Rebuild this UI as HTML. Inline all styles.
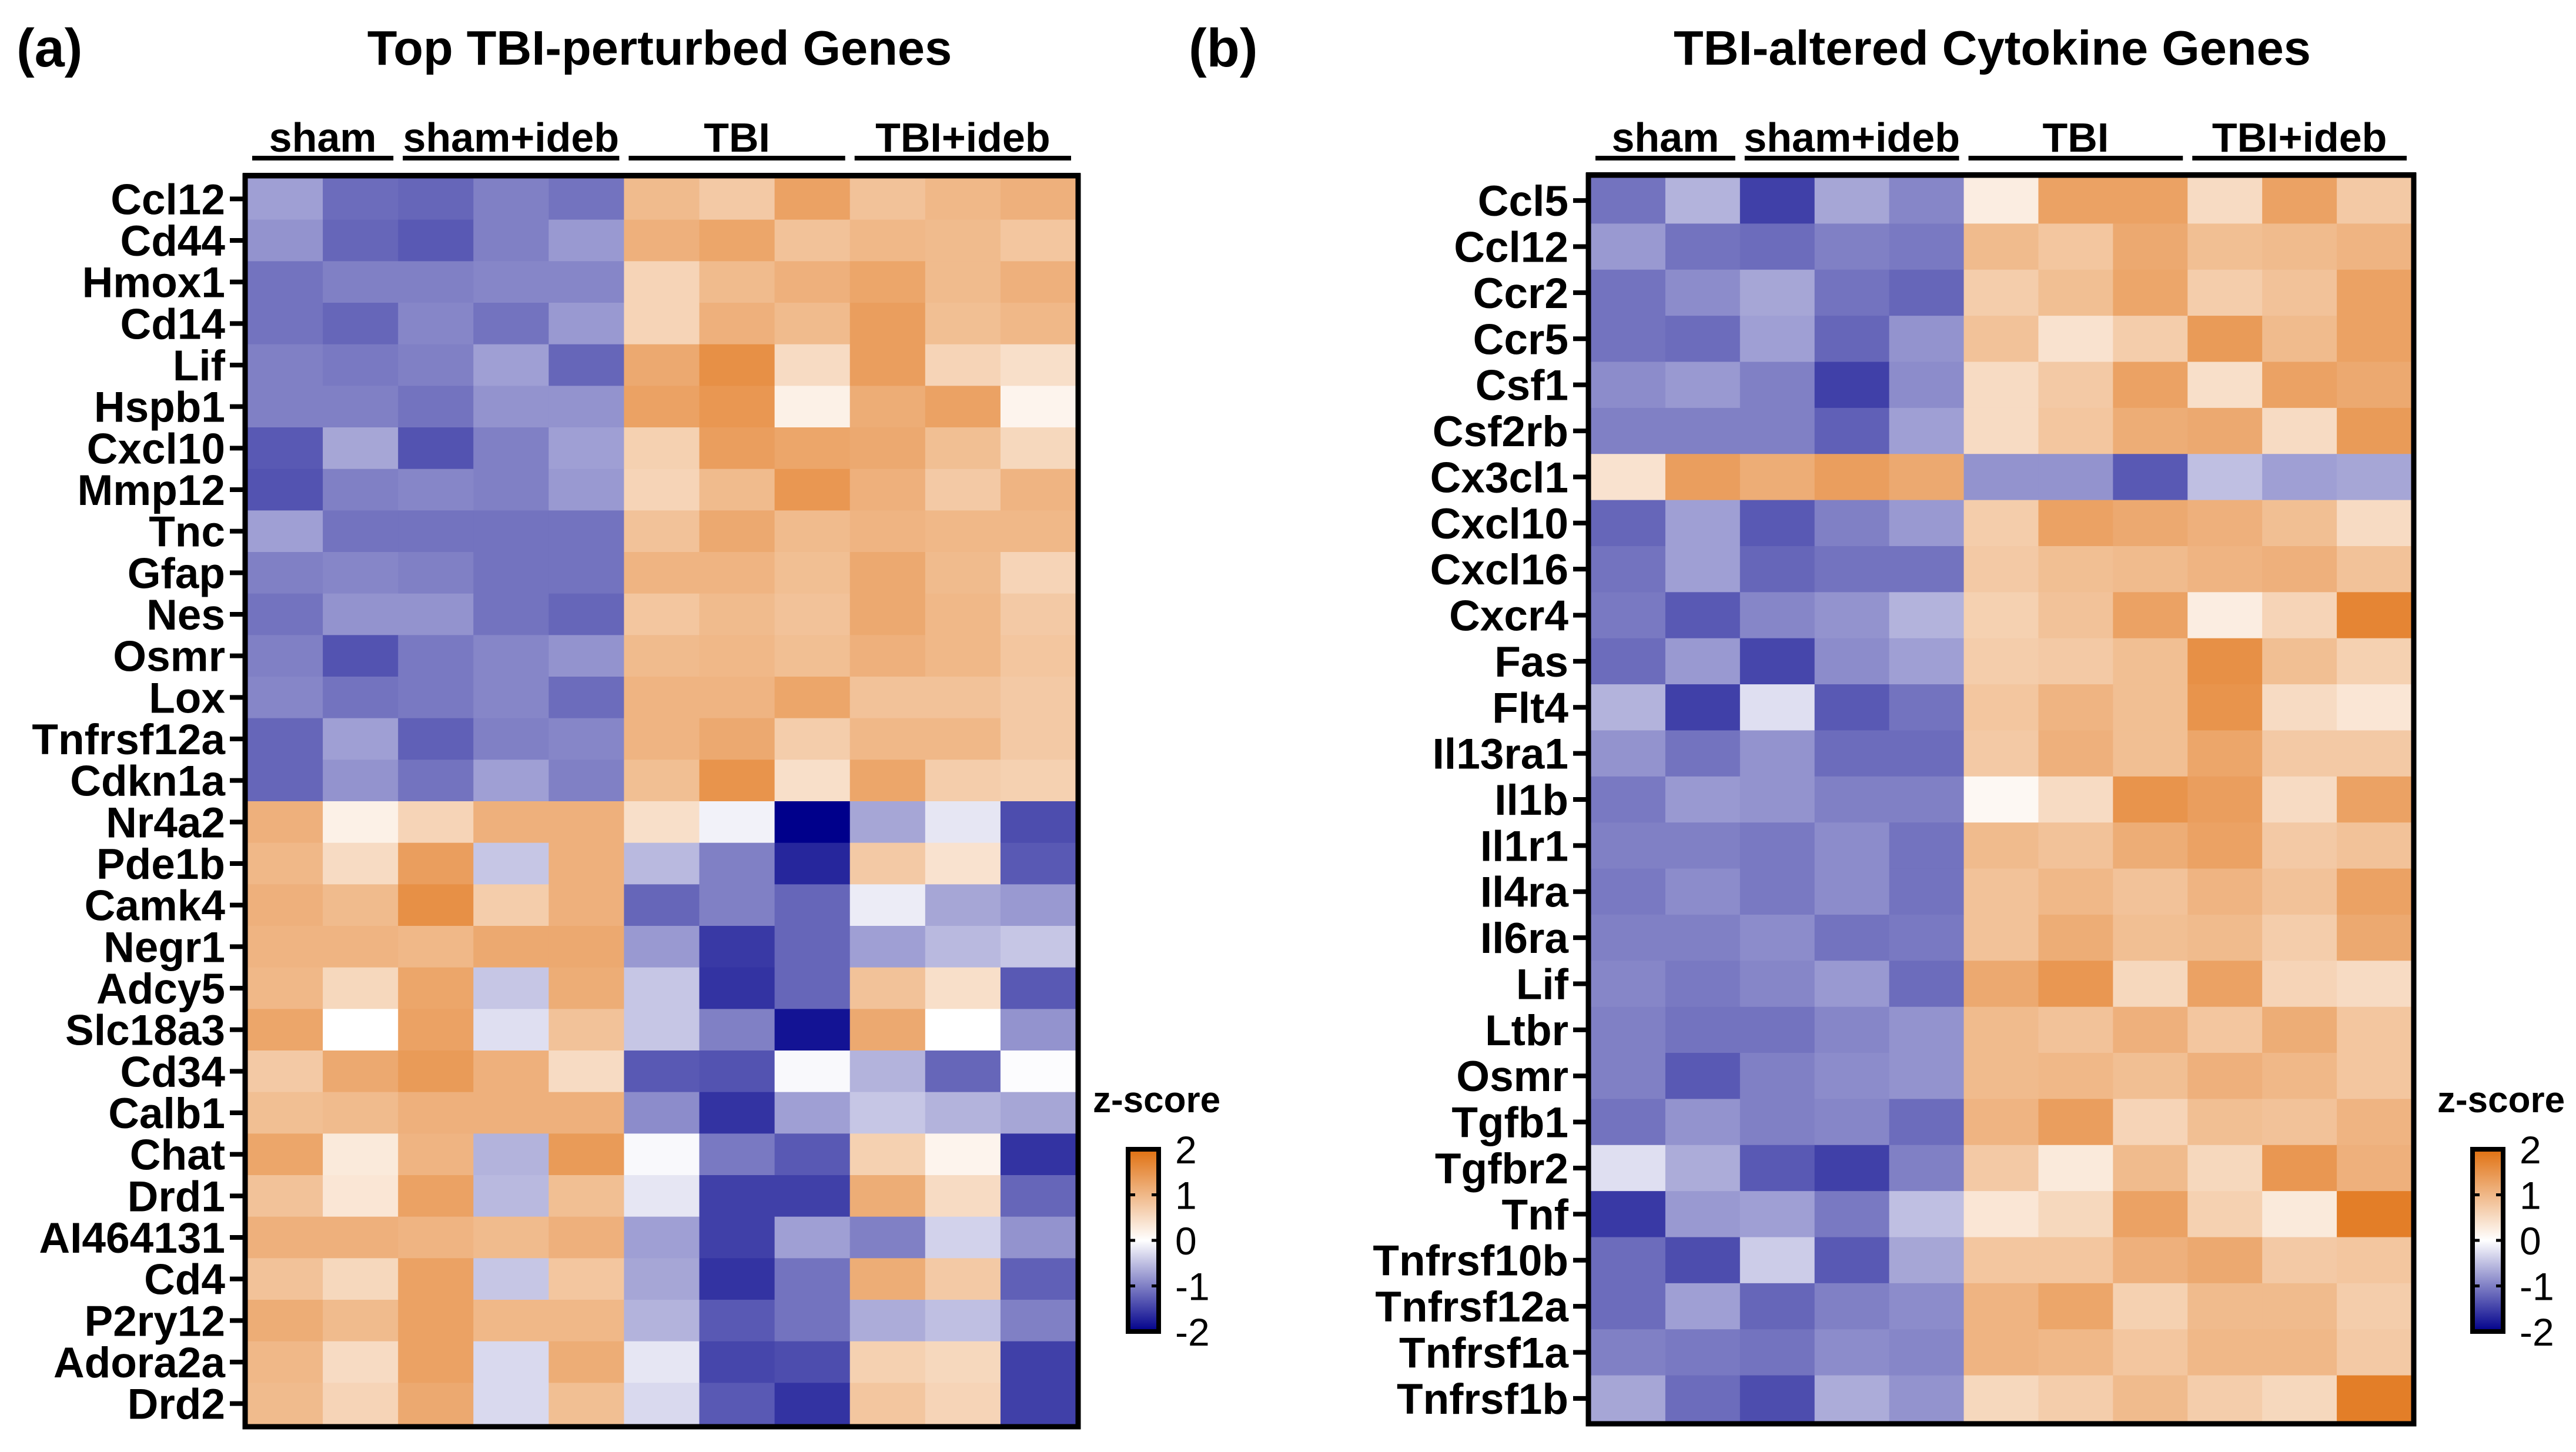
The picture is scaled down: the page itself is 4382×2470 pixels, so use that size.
<!DOCTYPE html>
<html><head><meta charset="utf-8"><style>
html,body{margin:0;padding:0;background:#fff;}
svg{display:block;}
text{font-family:"Liberation Sans",Arial,sans-serif;fill:#000;}
</style></head><body>
<svg id="fig" width="4382" height="2470" viewBox="0 0 4382 2470" xmlns="http://www.w3.org/2000/svg">
<defs>
<linearGradient id="cbar" x1="0" y1="1" x2="0" y2="0">
<stop offset="0" stop-color="rgb(0,0,139)"/>
<stop offset="0.5" stop-color="rgb(255,255,255)"/>
<stop offset="1" stop-color="rgb(224,112,16)"/>
</linearGradient>
</defs>
<text x="28" y="113" font-size="92" font-weight="bold">(a)</text>
<text x="1122" y="110" font-size="83" font-weight="bold" text-anchor="middle">Top TBI-perturbed Genes</text>
<text x="2022" y="113" font-size="92" font-weight="bold">(b)</text>
<text x="3389" y="110" font-size="83" font-weight="bold" text-anchor="middle">TBI-altered Cytokine Genes</text>
<g id="pa"></g>
<g id="pb"></g>
</svg>
<script>
const groups = ["sham","sham+ideb","TBI","TBI+ideb"];
const groupSizes = [2,3,3,3];
const tickLabels = ["2","1","0","-1","-2"];
const tickValues = [2,1,0,-1,-2];

const genesA = ["Ccl12","Cd44","Hmox1","Cd14","Lif","Hspb1","Cxcl10","Mmp12","Tnc","Gfap","Nes","Osmr","Lox","Tnfrsf12a","Cdkn1a","Nr4a2","Pde1b","Camk4","Negr1","Adcy5","Slc18a3","Cd34","Calb1","Chat","Drd1","AI464131","Cd4","P2ry12","Adora2a","Drd2"];
const valuesA = [
[-0.75,-1.15,-1.2,-1.0,-1.1,0.95,0.75,1.3,0.85,1.0,1.1],
[-0.85,-1.2,-1.3,-1.0,-0.8,1.1,1.25,0.85,1.0,0.95,0.8],
[-1.1,-1.0,-1.0,-0.95,-0.95,0.6,0.95,1.1,1.25,0.95,1.1],
[-1.1,-1.2,-0.95,-1.1,-0.8,0.6,1.1,0.95,1.35,0.9,1.0],
[-1.0,-1.05,-1.0,-0.75,-1.2,1.2,1.55,0.5,1.35,0.6,0.45],
[-1.0,-1.0,-1.1,-0.85,-0.85,1.3,1.45,0.2,1.15,1.3,0.15],
[-1.3,-0.7,-1.35,-1.0,-0.75,0.65,1.35,1.25,1.2,0.9,0.55],
[-1.35,-1.0,-0.95,-1.0,-0.8,0.6,0.95,1.45,1.1,0.75,1.05],
[-0.75,-1.1,-1.1,-1.1,-1.1,0.85,1.2,0.95,1.05,1.0,1.0],
[-1.0,-0.95,-1.0,-1.1,-1.1,1.05,1.05,0.9,1.2,0.95,0.6],
[-1.1,-0.85,-0.85,-1.1,-1.2,0.8,0.95,0.85,1.2,1.0,0.75],
[-1.0,-1.35,-1.05,-0.95,-0.85,0.95,1.0,0.9,1.1,1.0,0.8],
[-0.95,-1.1,-1.05,-0.95,-1.15,1.05,1.05,1.25,0.85,0.85,0.75],
[-1.2,-0.75,-1.25,-1.0,-0.95,1.05,1.2,0.7,1.0,1.0,0.75],
[-1.2,-0.85,-1.1,-0.75,-1.0,0.9,1.5,0.45,1.25,0.7,0.65],
[1.1,0.2,0.6,1.1,1.1,0.45,-0.1,-2.0,-0.7,-0.2,-1.4],
[1.0,0.5,1.35,-0.45,1.1,-0.55,-1.0,-1.7,0.75,0.4,-1.3],
[1.1,0.95,1.55,0.7,1.1,-1.2,-1.0,-1.2,-0.15,-0.7,-0.8],
[1.05,1.05,1.0,1.2,1.2,-0.8,-1.55,-1.2,-0.75,-0.55,-0.45],
[1.0,0.55,1.25,-0.45,1.15,-0.45,-1.6,-1.2,0.85,0.45,-1.3],
[1.25,0.0,1.3,-0.25,0.85,-0.45,-1.0,-1.85,1.2,0.0,-0.85],
[0.75,1.2,1.4,1.1,0.5,-1.3,-1.35,-0.05,-0.6,-1.2,-0.02],
[0.9,0.95,1.1,1.1,1.1,-0.9,-1.6,-0.75,-0.45,-0.6,-0.7],
[1.25,0.3,1.05,-0.6,1.4,-0.05,-1.05,-1.3,0.65,0.15,-1.6],
[0.85,0.35,1.3,-0.55,0.9,-0.2,-1.5,-1.5,1.15,0.5,-1.2],
[1.1,1.1,1.05,0.95,1.1,-0.75,-1.5,-0.75,-1.0,-0.35,-0.85],
[0.85,0.55,1.3,-0.45,0.8,-0.7,-1.6,-1.1,1.15,0.75,-1.25],
[1.15,0.95,1.3,1.0,1.0,-0.6,-1.3,-1.1,-0.65,-0.5,-1.0],
[1.0,0.5,1.3,-0.3,1.15,-0.2,-1.45,-1.4,0.65,0.55,-1.5],
[0.95,0.6,1.2,-0.3,0.9,-0.3,-1.3,-1.6,0.8,0.6,-1.5]
];

const genesB = ["Ccl5","Ccl12","Ccr2","Ccr5","Csf1","Csf2rb","Cx3cl1","Cxcl10","Cxcl16","Cxcr4","Fas","Flt4","Il13ra1","Il1b","Il1r1","Il4ra","Il6ra","Lif","Ltbr","Osmr","Tgfb1","Tgfbr2","Tnf","Tnfrsf10b","Tnfrsf12a","Tnfrsf1a","Tnfrsf1b"];
const valuesB = [
[-1.1,-0.6,-1.5,-0.7,-0.95,0.25,1.3,1.3,0.5,1.3,0.75],
[-0.8,-1.1,-1.15,-1.0,-1.05,0.95,0.8,1.2,0.9,0.95,1.05],
[-1.1,-0.9,-0.7,-1.1,-1.2,0.7,0.9,1.25,0.7,0.85,1.3],
[-1.1,-1.15,-0.75,-1.2,-0.85,0.85,0.4,0.7,1.4,0.95,1.3],
[-0.9,-0.8,-1.0,-1.5,-0.9,0.5,0.75,1.3,0.45,1.3,1.2],
[-1.0,-1.0,-1.0,-1.25,-0.75,0.5,0.8,1.15,1.2,0.5,1.4],
[0.4,1.35,1.15,1.35,1.2,-0.85,-0.85,-1.3,-0.5,-0.75,-0.7],
[-1.2,-0.75,-1.3,-1.0,-0.8,0.7,1.3,1.2,1.1,0.9,0.5],
[-1.1,-0.75,-1.2,-1.1,-1.1,0.75,0.9,0.95,1.05,1.1,0.85],
[-1.05,-1.3,-0.95,-0.85,-0.6,0.65,0.85,1.3,0.25,0.6,1.7],
[-1.15,-0.8,-1.45,-0.9,-0.75,0.7,0.75,0.9,1.55,0.9,0.65],
[-0.6,-1.5,-0.25,-1.3,-1.1,0.8,1.05,0.9,1.5,0.5,0.35],
[-0.85,-1.1,-0.85,-1.15,-1.15,0.75,1.1,0.9,1.25,0.75,0.75],
[-1.05,-0.8,-0.85,-1.0,-1.0,0.1,0.5,1.5,1.35,0.5,1.3],
[-1.0,-1.0,-1.05,-0.9,-1.1,0.95,0.85,1.15,1.3,0.75,0.85],
[-1.05,-0.9,-1.05,-0.9,-1.1,0.85,1.0,0.85,1.05,0.85,1.3],
[-1.0,-1.0,-0.9,-1.1,-1.05,0.85,1.15,0.9,0.95,0.7,1.2],
[-0.95,-1.05,-0.95,-0.8,-1.15,1.2,1.45,0.55,1.3,0.6,0.5],
[-1.0,-1.1,-1.1,-0.95,-0.85,0.95,0.85,1.1,0.8,1.15,0.8],
[-1.0,-1.3,-1.0,-0.9,-0.85,0.95,1.0,0.9,1.1,1.0,0.8],
[-1.1,-0.85,-1.0,-0.95,-1.15,1.05,1.35,0.6,0.9,0.85,1.05],
[-0.25,-0.65,-1.3,-1.5,-1.0,0.75,0.3,0.95,0.55,1.45,1.1],
[-1.55,-0.8,-0.75,-1.05,-0.5,0.35,0.55,1.3,0.65,0.3,1.8],
[-1.15,-1.4,-0.4,-1.3,-0.7,0.8,0.8,1.1,1.2,0.75,0.8],
[-1.15,-0.75,-1.2,-1.0,-0.9,1.05,1.25,0.65,0.95,0.95,0.7],
[-1.0,-1.05,-1.1,-0.9,-0.95,1.05,1.0,0.8,1.0,1.0,0.75],
[-0.7,-1.15,-1.4,-0.65,-0.85,0.55,0.7,0.95,0.7,0.55,1.8]
];

const NS = "http://www.w3.org/2000/svg";
function mk(tag, attrs, parent){
  const e = document.createElementNS(NS, tag);
  for (const k in attrs) e.setAttribute(k, attrs[k]);
  parent.appendChild(e);
  return e;
}
function color(v){
  v = Math.max(-2, Math.min(2, v));
  const f = Math.abs(v)/2;
  const end = v >= 0 ? [224,112,16] : [0,0,139];
  const c = end.map(e => Math.round(255 + (e-255)*f));
  return "rgb(" + c.join(",") + ")";
}

function drawPanel(g, genes, values, box, cbarX){
  const nC = values[0].length, nR = genes.length;
  const cw = (box.x1 - box.x0)/nC, rh = (box.y1 - box.y0)/nR;
  const xScale = c => box.x0 + c*cw;
  const yScale = r => box.y0 + r*rh;
  for (let r = 0; r < nR; r++){
    for (let c = 0; c < nC; c++){
      const rect = mk("rect", {x: xScale(c), y: yScale(r), width: cw+0.6, height: rh+0.6, fill: color(values[r][c])}, g);
      
      
    }
    const cy = yScale(r) + rh/2;
    const tk = mk("line", {x1: box.x0-30, x2: box.x0-6, y1: cy, y2: cy, stroke: "#000", "stroke-width": 8}, g);
    
    
    const t = mk("text", {x: box.x0-38, y: cy+26, "font-size": 73, "font-weight": "bold", "text-anchor": "end"}, g);
    t.textContent = genes[r];
    
    
  }
  const br = mk("rect", {x: box.x0-4, y: box.y0-4, width: box.x1-box.x0+8, height: box.y1-box.y0+8, fill: "none", stroke: "#000", "stroke-width": 9}, g);
  
  
  mk("line", {x1: box.x0-8, x2: box.x1+8, y1: box.y0-6, y2: box.y0-6, stroke: "#000", "stroke-width": 6}, g);
  let c0 = 0;
  for (let i = 0; i < groups.length; i++){
    const xa = xScale(c0) + 8, xb = xScale(c0 + groupSizes[i]) - 8;
    const ul = mk("line", {x1: xa, x2: xb, y1: 269, y2: 269, stroke: "#000", "stroke-width": 8}, g);
    
    
    const gt = mk("text", {x: (xa+xb)/2, y: 258, "font-size": 70, "font-weight": "bold", "text-anchor": "middle"}, g);
    gt.textContent = groups[i];
    
    
    c0 += groupSizes[i];
  }
  const cbTop = 1955, cbBot = 2265;
  const cbY = v => cbTop + (2 - v)/4*(cbBot - cbTop);
  const zt = mk("text", {x: cbarX - 60, y: 1892, "font-size": 62, "font-weight": "bold"}, g);
  zt.textContent = "z-score";
  
  
  const cb = mk("rect", {x: cbarX, y: cbTop, width: 52, height: cbBot - cbTop, fill: "url(#cbar)", stroke: "#000", "stroke-width": 8}, g);
  
  
  for (let i = 0; i < tickValues.length; i++){
    const y = cbY(tickValues[i]);
    if (tickValues[i] !== 2 && tickValues[i] !== -2){
      mk("line", {x1: cbarX, x2: cbarX+12, y1: y, y2: y, stroke: "#000", "stroke-width": 5}, g);
      mk("line", {x1: cbarX+40, x2: cbarX+52, y1: y, y2: y, stroke: "#000", "stroke-width": 5}, g);
    }
    const lt = mk("text", {x: cbarX + 80, y: y + 24, "font-size": 66}, g);
    lt.textContent = tickLabels[i];
    
    
  }
}
drawPanel(document.getElementById("pa"), genesA, valuesA, {x0: 421, x1: 1830, y0: 303, y1: 2423}, 1919);
drawPanel(document.getElementById("pb"), genesB, valuesB, {x0: 2706, x1: 4102, y0: 302, y1: 2418}, 4206);
</script>
</body></html>
